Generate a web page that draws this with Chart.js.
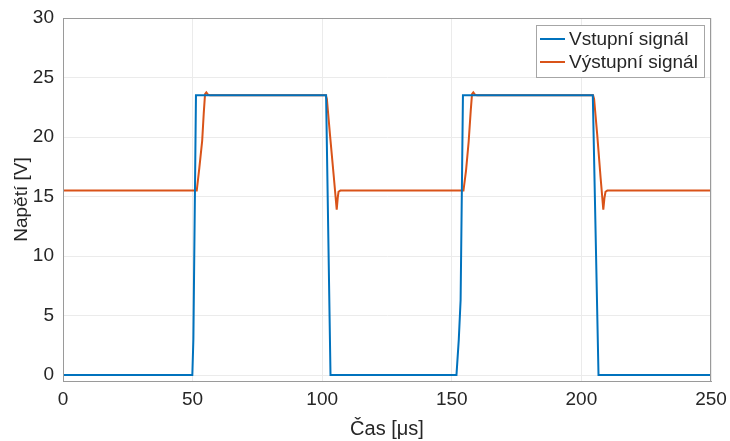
<!DOCTYPE html>
<html>
<head>
<meta charset="utf-8">
<script src="https://cdn.jsdelivr.net/npm/chart.js@4/dist/chart.umd.min.js"></script>
<style>
    html, body { margin: 0; padding: 0; background: #fff; }
    #wrap { width: 730px; height: 441px; }
</style>
</head>
<body>
<div id="wrap"><canvas id="signalChart"></canvas></div>
<script>
// Input signal (time in µs, voltage in V)
const inputTime  = [0, 49.9, 50.3, 51.3, 101.5, 103.2, 151.8, 152.7, 153.4, 154.3, 204.4, 206.6, 250];
const inputVolts = [0, 0, 3.0, 23.5, 23.5, 0, 0, 3.0, 6.3, 23.5, 23.5, 0, 0];

// Output signal
const outputTime = [0, 51.6, 52.6, 53.7, 54.3, 54.8, 55.3, 56.0, 56.8,
    101.4, 101.8, 103.0, 104.5, 105.6, 106.0, 106.3, 107.0,
    154.5, 155.5, 156.5, 157.3, 157.8, 158.3, 159.0, 159.8,
    204.5, 204.9, 206.1, 207.4, 208.45, 208.9, 209.3, 210.0, 250];
const outputVolts = [15.5, 15.5, 17.4, 19.7, 22.0, 23.6, 23.75, 23.55, 23.5,
    23.5, 23.2, 20.2, 16.6, 13.9, 14.9, 15.4, 15.5,
    15.5, 17.2, 19.6, 22.2, 23.6, 23.75, 23.55, 23.5,
    23.5, 23.2, 20.2, 16.6, 13.9, 14.9, 15.4, 15.5, 15.5];

const seriesLabels = ['Vstupní signál', 'Výstupní signál'];
const xTicks = [0, 50, 100, 150, 200, 250];
const yTicks = [0, 5, 10, 15, 20, 25, 30];

const toPoints = (xs, ys) => xs.map((x, i) => ({ x: x, y: ys[i] }));

const textColor = '#262626';
const axisColor = '#9a9a9a';
const fontFamily = '"Liberation Sans", Arial, Helvetica, sans-serif';

// Box around the plot area (top and right edges)
const boxPlugin = {
    id: 'boxPlugin',
    afterDatasetsDraw(chart) {
        const a = chart.chartArea;
        const ctx = chart.ctx;
        ctx.save();
        ctx.strokeStyle = axisColor;
        ctx.lineWidth = 1;
        ctx.strokeRect(a.left + 0.5, a.top + 0.5, a.right - a.left - 1, a.bottom - a.top);
        ctx.restore();
    }
};

// Legend box drawn inside the plot, top right
const insideLegend = {
    id: 'insideLegend',
    afterDraw(chart) {
        const ctx = chart.ctx;
        const x0 = 536, y0 = 25, w = 168, h = 52;
        ctx.save();
        ctx.fillStyle = '#fff';
        ctx.fillRect(x0, y0, w, h);
        ctx.strokeStyle = '#a6a6a6';
        ctx.lineWidth = 1;
        ctx.strokeRect(x0 + 0.5, y0 + 0.5, w, h);
        ctx.font = '19px ' + fontFamily;
        ctx.textBaseline = 'middle';
        chart.data.datasets.forEach((ds, i) => {
            const y = y0 + 14 + i * 23;
            ctx.strokeStyle = ds.borderColor;
            ctx.lineWidth = 2;
            ctx.beginPath();
            ctx.moveTo(x0 + 4, y);
            ctx.lineTo(x0 + 29, y);
            ctx.stroke();
            ctx.fillStyle = textColor;
            ctx.fillText(ds.label, x0 + 33, y + 1);
        });
        ctx.restore();
    }
};

const ctx = document.getElementById('signalChart').getContext('2d');
new Chart(ctx, {
    type: 'line',
    data: {
        datasets: [{
            label: seriesLabels[0],
            data: toPoints(inputTime, inputVolts),
            borderColor: '#0072BD',
            borderWidth: 2,
            pointRadius: 0,
            tension: 0
        }, {
            label: seriesLabels[1],
            data: toPoints(outputTime, outputVolts),
            borderColor: '#D95319',
            borderWidth: 2,
            pointRadius: 0,
            tension: 0
        }]
    },
    options: {
        responsive: true,
        maintainAspectRatio: false,
        animation: false,
        layout: { padding: { top: 18, right: 19, left: 0, bottom: 0 } },
        plugins: {
            legend: { display: false },
            tooltip: { enabled: false }
        },
        scales: {
            x: {
                type: 'linear',
                min: 0,
                max: 250,
                afterBuildTicks: scale => { scale.ticks = xTicks.map(v => ({ value: v })); },
                afterFit: scale => {
                    scale.height = 60;
                    scale.paddingLeft = 0;
                    scale.paddingRight = 0;
                },
                ticks: {
                    color: textColor,
                    padding: 7,
                    maxRotation: 0,
                    font: { family: fontFamily, size: 19 }
                },
                grid: { color: '#ebebeb', drawTicks: false },
                border: { color: axisColor },
                title: {
                    display: true,
                    text: 'Čas [μs]',
                    color: textColor,
                    padding: { top: 4, bottom: 0 },
                    font: { family: fontFamily, size: 20 }
                }
            },
            y: {
                min: -0.5,
                max: 30,
                afterBuildTicks: scale => { scale.ticks = yTicks.map(v => ({ value: v })); },
                afterFit: scale => {
                    scale.width = 63;
                    scale.paddingTop = 0;
                    scale.paddingBottom = 0;
                },
                ticks: {
                    color: textColor,
                    padding: 9,
                    font: { family: fontFamily, size: 19 }
                },
                grid: { color: '#ebebeb', drawTicks: false },
                border: { color: axisColor },
                title: {
                    display: true,
                    text: 'Napětí [V]',
                    color: textColor,
                    padding: { top: 10, bottom: 0 },
                    font: { family: fontFamily, size: 19 }
                }
            }
        }
    },
    plugins: [boxPlugin, insideLegend]
});
</script>
</body>
</html>
